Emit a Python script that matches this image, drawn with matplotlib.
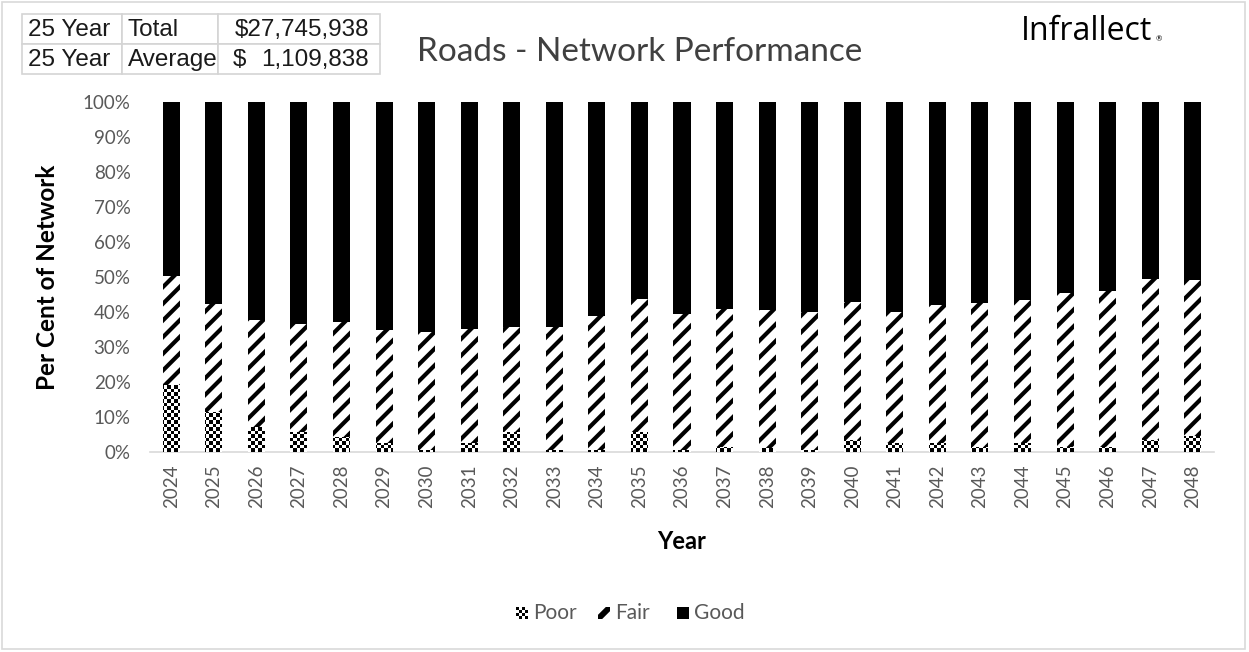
import numpy as np
import matplotlib
matplotlib.use('Agg')
import matplotlib.pyplot as plt
from matplotlib.patches import Rectangle, PathPatch, Polygon
from matplotlib.path import Path
from matplotlib.transforms import Affine2D

# Data (per cent of network)
years = [str(y) for y in range(2024, 2049)]
poor = [19.1, 11.5, 7.2, 5.6, 4.4, 2.7, 0.6, 2.5, 5.8, 0.6, 0.5, 5.8, 0.6,
        1.5, 1.1, 0.6, 3.4, 2.5, 2.5, 1.5, 2.7, 1.5, 1.5, 3.5, 4.5]
fair = [31.2, 30.7, 30.5, 31.0, 32.7, 32.2, 33.7, 32.6, 30.0, 35.2, 38.4, 37.8, 38.8,
        39.4, 39.5, 39.5, 39.4, 37.4, 39.5, 41.2, 40.7, 43.8, 44.5, 45.9, 44.6]
good = [49.7, 57.8, 62.3, 63.4, 62.9, 65.1, 65.7, 64.9, 64.2, 64.2, 61.1, 56.4, 60.6,
        59.1, 59.4, 59.9, 57.2, 60.1, 58.0, 57.3, 56.6, 54.7, 54.0, 50.6, 50.9]
series_names = ['Poor', 'Fair', 'Good']
table_rows = [['25 Year', 'Total', '$27,745,938'],
              ['25 Year', 'Average', '$  1,109,838']]

W, H = 1249, 652
plt.rcParams['font.family'] = ['Lato', 'DejaVu Sans']
plt.rcParams['hatch.linewidth'] = 3.0

fig = plt.figure(figsize=(W / 100, H / 100), dpi=100)


def fx(x):
    return x / W


def fy(y):
    return 1 - y / H


# plot area in pixels
L, R, T, B = 150, 1214, 102, 452
ax = fig.add_axes([fx(L), fy(B), fx(R) - fx(L), fy(T) - fy(B)])

x = np.arange(len(years))
bw = 0.4
poor_bars = ax.bar(x, poor, bw, color='white', edgecolor='none', zorder=2)
ax.bar(x, fair, bw, bottom=poor, facecolor='white', edgecolor='black', linewidth=0,
       hatch='//', zorder=2)
bottom2 = np.array(poor) + np.array(fair)
ax.bar(x, good, bw, bottom=bottom2, color='black', edgecolor='none', zorder=2)

ax.set_xlim(-0.5, len(years) - 0.5)
ax.set_ylim(0, 100)

# checkerboard fill for the Poor segments
cell = 3.5
nr = int((B - T) / cell)
nc = int((R - L) / cell)
checker = (np.add.outer(np.arange(nr), np.arange(nc)) % 2).astype(float)
paths = [Path.unit_rectangle().transformed(
    Affine2D().scale(b.get_width(), b.get_height()).translate(b.get_x(), b.get_y()))
    for b in poor_bars]
clip = PathPatch(Path.make_compound_path(*paths), transform=ax.transData,
                 facecolor='none', edgecolor='none')
ax.add_patch(clip)
im = ax.imshow(checker, cmap='gray', extent=[-0.5, len(years) - 0.5, 0, 100], aspect='auto',
               interpolation='nearest', zorder=3, vmin=0, vmax=1)
im.set_clip_path(clip)

ax.set_xticks(x)
ax.set_xticklabels(years, rotation=90)
ax.set_yticks(np.arange(0, 101, 10))
ax.set_yticklabels([f'{v}%' for v in range(0, 101, 10)])
ax.tick_params(length=0, labelsize=13.5, colors='#595959')
ax.tick_params(axis='y', pad=14)
ax.tick_params(axis='x', pad=9)
for s in ['top', 'right', 'left']:
    ax.spines[s].set_visible(False)
ax.spines['bottom'].set_color('#d9d9d9')
ax.spines['bottom'].set_linewidth(1.2)
ax.set_ylabel('Per Cent of Network', fontsize=17.5, fontweight='bold', labelpad=17)
ax.set_xlabel('Year', fontsize=17, fontweight='bold', labelpad=16)

# title and logo
fig.text(fx(640), fy(52), 'Roads - Network Performance', fontsize=24, color='#404040',
         ha='center', va='center')
fig.text(fx(1021), fy(32), 'Infrallect', fontsize=23, color='black', ha='left', va='center',
         family='Open Sans')
fig.text(fx(1156), fy(39), '®', fontsize=5.5, color='black', ha='left', va='center')

# summary table top-left
cols = [22, 122, 218, 380]
rows = [14, 44, 74]
for i, row in enumerate(table_rows):
    for j, val in enumerate(row):
        fig.add_artist(Rectangle((fx(cols[j]), fy(rows[i + 1])), fx(cols[j + 1] - cols[j]),
                                 (rows[i + 1] - rows[i]) / H, facecolor='white',
                                 edgecolor='#d4d4d4', lw=1.2))
        yc = fy((rows[i] + rows[i + 1]) / 2 + 1)
        kw = dict(fontsize=17.5, family='Liberation Sans', color='#1a1a1a', va='center')
        if j < 2:
            fig.text(fx(cols[j] + 6), yc, val, ha='left', **kw)
        elif ' ' in val:
            cur, num = val.split(None, 1)
            fig.text(fx(233), yc, cur, ha='left', **kw)
            fig.text(fx(369), yc, num, ha='right', **kw)
        else:
            fig.text(fx(369), yc, val, ha='right', **kw)

# legend drawn by hand
ly = 613
marks = [(516, 'Poor'), (598, 'Fair'), (677, 'Good')]
for mx, name in marks:
    lax = fig.add_axes([fx(mx), fy(ly + 6), 12 / W, 12 / H])
    lax.set_xlim(0, 1)
    lax.set_ylim(0, 1)
    lax.axis('off')
    if name == 'Poor':
        lax.imshow(checker[:4, :4], cmap='gray', extent=[0, 1, 0, 1], aspect='auto',
                   interpolation='nearest', vmin=0, vmax=1)
    elif name == 'Fair':
        lax.add_patch(Polygon([(0, 0), (0.35, 0), (1, 0.65), (1, 1), (0.65, 1), (0, 0.35)],
                              closed=True, facecolor='black', edgecolor='none'))
    else:
        lax.add_patch(Rectangle((0, 0), 1, 1, facecolor='black', edgecolor='none'))
    fig.text(fx(mx + 17), fy(ly), name, fontsize=15, color='#595959', ha='left', va='center')

# outer frame
fig.add_artist(Rectangle((fx(2), fy(649)), fx(1245) - fx(2), fy(2) - fy(649), facecolor='none',
                         edgecolor='#d9d9d9', lw=1.2))

fig.savefig('out.png', dpi=100)
